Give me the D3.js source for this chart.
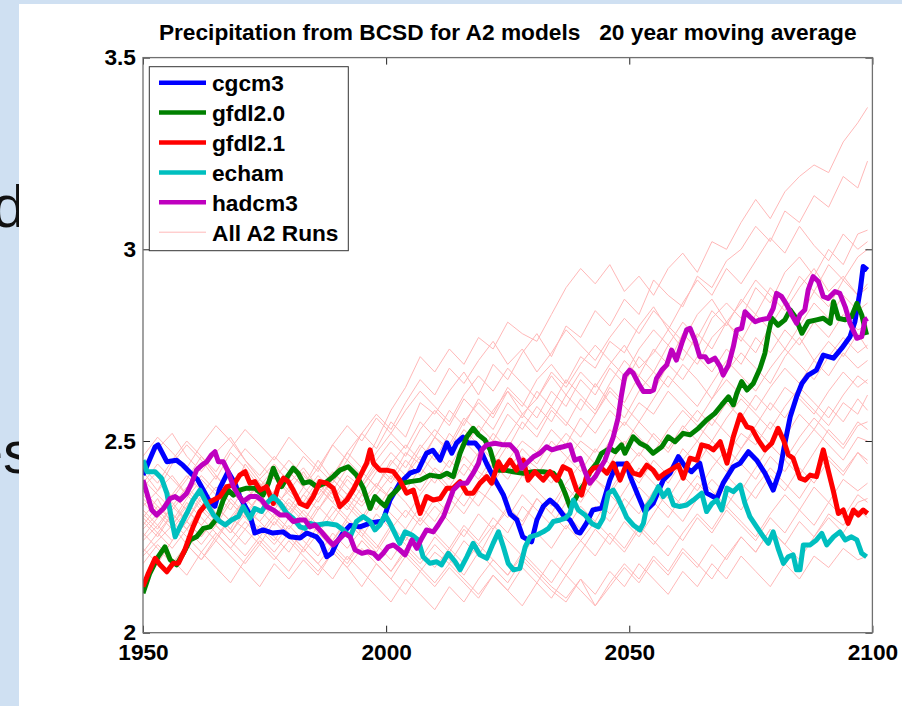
<!DOCTYPE html>
<meta charset="utf-8">

<style>
	body { margin: 0; background: #cfe0f2; }
	svg { display: block; font-family: "Liberation Sans", Arial, sans-serif; }
	.title { white-space: pre; }
	.axis text { font-size: 22.7px; font-weight: bold; fill: #000; }
</style>

<div id="chartBx"></div>

<script src="https://cdn.jsdelivr.net/npm/d3@7"></script>

<script>

	// 모델 이름 / 색상
	var modelNames  = ["cgcm3", "gfdl2.0", "gfdl2.1", "echam", "hadcm3"];
	var modelColors = ["#0000ff", "#008000", "#ff0000", "#00bfbf", "#bf00bf"];
	var runsLabel   = "All A2 Runs";

	var xTicks = [1950, 2000, 2050, 2100];
	var yTicks = [2, 2.5, 3, 3.5];

	// [year, precip]
	var cgcm3 = [
		[1950.0,2.411],[1952.5,2.485],[1953.1,2.490],[1954.9,2.446],[1956.9,2.450],[1958.2,2.437],[1960.3,2.410],[1961.2,2.400],
		[1963.8,2.340],[1964.8,2.330],[1965.8,2.377],[1967.5,2.420],[1968.9,2.390],[1969.9,2.355],[1972.0,2.307],[1973.0,2.260],
		[1974.7,2.268],[1976.7,2.260],[1978.8,2.263],[1980.2,2.250],[1982.3,2.247],[1983.7,2.260],[1985.7,2.250],[1986.7,2.234],
		[1987.8,2.198],[1988.8,2.207],[1989.8,2.234],[1991.1,2.260],[1992.6,2.280],[1994.6,2.276],[1996.7,2.286],[1998.7,2.290],
		[1999.4,2.294],[2000.8,2.346],[2002.8,2.390],[2004.9,2.416],[2006.6,2.424],[2008.3,2.468],[2009.6,2.476],[2011.1,2.450],
		[2012.5,2.495],[2013.5,2.468],[2014.5,2.495],[2015.8,2.510],[2016.8,2.495],[2018.3,2.495],[2019.3,2.480],[2020.7,2.440],
		[2022.4,2.398],[2024.1,2.360],[2025.5,2.310],[2026.9,2.294],[2028.1,2.250],[2029.9,2.237],[2031.0,2.294],[2032.3,2.329],
		[2033.7,2.346],[2035.1,2.330],[2036.4,2.307],[2037.8,2.294],[2039.2,2.263],[2039.9,2.260],[2041.2,2.286],[2042.5,2.320],
		[2044.3,2.325],[2046.0,2.398],[2047.4,2.440],[2049.5,2.440],[2050.2,2.407],[2051.9,2.355],[2053.2,2.316],[2054.9,2.337],
		[2057.0,2.398],[2058.4,2.416],[2060.1,2.459],[2061.5,2.433],[2062.8,2.420],[2064.5,2.442],[2065.9,2.364],[2068.0,2.350],
		[2069.3,2.390],[2071.4,2.433],[2072.8,2.442],[2074.5,2.472],[2076.2,2.450],[2077.9,2.416],[2079.6,2.372],[2081.0,2.424],
		[2082.0,2.494],[2083.1,2.563],[2084.4,2.615],[2085.5,2.650],[2086.8,2.672],[2088.5,2.685],[2089.9,2.724],[2092.0,2.716],
		[2093.7,2.742],[2095.4,2.772],[2096.4,2.811],[2097.5,2.894],[2098.1,2.955],[2099.0,2.946]
	];

	var gfdl20 = [
		[1950.0,2.103],[1951.4,2.155],[1953.1,2.198],[1954.5,2.224],[1955.6,2.190],[1956.9,2.177],[1958.3,2.207],[1959.7,2.242],
		[1961.0,2.250],[1962.4,2.272],[1963.8,2.276],[1965.2,2.298],[1966.5,2.346],[1967.5,2.372],[1968.6,2.359],[1969.9,2.372],
		[1971.3,2.377],[1973.0,2.377],[1974.7,2.359],[1975.8,2.390],[1976.8,2.429],[1977.5,2.407],[1978.5,2.381],[1979.9,2.411],
		[1980.9,2.429],[1981.9,2.416],[1983.0,2.390],[1984.3,2.394],[1985.7,2.381],[1987.4,2.390],[1989.1,2.407],[1990.5,2.424],
		[1992.2,2.433],[1993.9,2.411],[1995.3,2.377],[1996.7,2.324],[1997.7,2.355],[1998.7,2.342],[1999.8,2.330],[2000.8,2.355],
		[2002.2,2.372],[2003.5,2.390],[2004.9,2.394],[2007.0,2.398],[2009.0,2.411],[2011.1,2.407],[2012.5,2.416],[2013.8,2.407],
		[2015.2,2.468],[2016.6,2.511],[2017.9,2.533],[2019.0,2.516],[2020.3,2.503],[2021.4,2.477],[2022.4,2.433],[2023.1,2.424],
		[2024.4,2.424],[2026.1,2.420],[2028.2,2.416],[2030.3,2.420],[2032.3,2.420],[2034.4,2.416],[2035.8,2.394],[2036.8,2.364],
		[2037.8,2.329],[2038.8,2.346],[2039.9,2.372],[2040.9,2.390],[2041.9,2.420],[2043.3,2.442],[2044.3,2.468],[2046.0,2.481],
		[2047.1,2.472],[2048.4,2.490],[2049.1,2.468],[2050.8,2.511],[2052.2,2.494],[2053.6,2.485],[2054.9,2.468],[2056.7,2.485],
		[2058.0,2.511],[2059.4,2.498],[2061.1,2.520],[2062.5,2.516],[2064.2,2.533],[2065.9,2.555],[2067.6,2.572],[2069.0,2.594],
		[2070.4,2.615],[2071.4,2.594],[2072.1,2.624],[2073.1,2.655],[2074.2,2.633],[2075.5,2.650],[2076.9,2.690],[2077.9,2.729],
		[2078.6,2.781],[2079.3,2.820],[2080.6,2.802],[2082.0,2.816],[2083.1,2.842],[2084.1,2.824],[2085.5,2.781],[2086.8,2.811],
		[2088.5,2.816],[2089.9,2.820],[2091.3,2.807],[2092.0,2.863],[2093.0,2.820],[2094.4,2.816],[2095.7,2.824],[2096.8,2.859],
		[2097.8,2.829],[2098.8,2.777]
	];

	var gfdl21 = [
		[1950.0,2.120],[1951.1,2.155],[1952.5,2.194],[1953.5,2.177],[1954.9,2.159],[1956.2,2.181],[1957.3,2.181],[1958.6,2.216],
		[1960.3,2.276],[1961.7,2.316],[1963.1,2.337],[1964.5,2.346],[1965.8,2.355],[1967.2,2.381],[1968.6,2.385],[1969.9,2.411],
		[1971.0,2.420],[1972.0,2.390],[1973.0,2.394],[1974.1,2.372],[1975.4,2.381],[1976.8,2.337],[1977.8,2.381],[1978.9,2.403],
		[1979.9,2.394],[1980.9,2.372],[1982.3,2.337],[1983.7,2.329],[1985.0,2.355],[1986.4,2.394],[1987.8,2.390],[1989.1,2.377],
		[1990.5,2.329],[1991.9,2.346],[1993.2,2.372],[1994.6,2.407],[1996.0,2.442],[1996.7,2.477],[1997.4,2.442],[1998.7,2.424],
		[2000.1,2.424],[2001.5,2.420],[2002.8,2.398],[2004.2,2.364],[2005.6,2.372],[2007.0,2.311],[2008.3,2.355],[2009.7,2.346],
		[2011.1,2.350],[2012.5,2.377],[2013.8,2.377],[2015.2,2.394],[2016.6,2.364],[2017.9,2.364],[2019.3,2.390],[2020.7,2.407],
		[2021.7,2.390],[2023.1,2.446],[2024.1,2.424],[2025.5,2.450],[2026.8,2.424],[2028.2,2.450],[2029.2,2.398],[2030.6,2.420],
		[2032.3,2.398],[2033.7,2.420],[2035.1,2.398],[2036.4,2.433],[2037.8,2.424],[2039.2,2.372],[2040.2,2.359],[2041.2,2.407],
		[2042.6,2.429],[2044.0,2.433],[2045.4,2.416],[2046.7,2.442],[2048.1,2.398],[2049.5,2.442],[2050.8,2.416],[2052.2,2.411],
		[2053.6,2.437],[2054.9,2.424],[2056.0,2.403],[2057.3,2.416],[2059.1,2.429],[2060.1,2.437],[2061.1,2.403],[2062.5,2.455],
		[2063.9,2.450],[2064.9,2.490],[2066.3,2.485],[2067.3,2.477],[2068.7,2.498],[2070.1,2.442],[2071.4,2.511],[2072.8,2.568],
		[2074.2,2.537],[2075.2,2.533],[2076.5,2.503],[2077.9,2.477],[2079.3,2.494],[2080.6,2.533],[2081.7,2.503],[2082.7,2.464],
		[2083.7,2.455],[2085.1,2.403],[2086.2,2.398],[2087.2,2.411],[2088.5,2.407],[2089.9,2.477],[2090.9,2.424],[2092.0,2.368],
		[2093.0,2.311],[2094.0,2.320],[2095.0,2.285],[2096.1,2.320],[2097.1,2.307],[2098.1,2.320],[2099.0,2.311]
	];

	var echam = [
		[1950.0,2.450],[1950.8,2.420],[1952.5,2.420],[1953.8,2.403],[1954.9,2.364],[1955.9,2.294],[1956.6,2.250],[1957.6,2.276],
		[1959.0,2.311],[1960.3,2.346],[1961.7,2.372],[1963.1,2.337],[1964.5,2.307],[1965.8,2.290],[1966.9,2.281],[1968.2,2.294],
		[1969.6,2.303],[1970.6,2.329],[1972.0,2.298],[1973.0,2.324],[1974.4,2.316],[1975.4,2.337],[1976.8,2.355],[1978.2,2.337],
		[1979.6,2.311],[1980.9,2.298],[1982.3,2.276],[1983.3,2.272],[1984.3,2.285],[1985.7,2.281],[1987.8,2.285],[1989.8,2.281],
		[1991.2,2.268],[1992.6,2.250],[1993.9,2.290],[1995.3,2.303],[1996.7,2.290],[1997.7,2.268],[1998.7,2.281],[1999.8,2.307],
		[2000.8,2.285],[2001.8,2.259],[2002.8,2.233],[2003.9,2.263],[2005.3,2.255],[2006.6,2.242],[2007.6,2.198],[2009.0,2.181],
		[2010.4,2.185],[2011.4,2.177],[2012.8,2.207],[2014.2,2.185],[2015.2,2.164],[2016.6,2.198],[2017.9,2.233],[2019.3,2.203],
		[2020.7,2.194],[2022.0,2.233],[2023.1,2.263],[2024.1,2.224],[2025.1,2.181],[2026.2,2.164],[2027.5,2.168],[2028.6,2.224],
		[2029.6,2.250],[2031.0,2.255],[2032.3,2.263],[2033.4,2.272],[2034.4,2.290],[2035.8,2.294],[2036.8,2.298],[2037.8,2.311],
		[2038.5,2.346],[2039.5,2.320],[2040.9,2.307],[2042.3,2.285],[2043.6,2.276],[2044.6,2.298],[2045.7,2.364],[2046.7,2.372],
		[2047.7,2.350],[2048.8,2.320],[2049.5,2.300],[2050.8,2.281],[2052.2,2.268],[2052.9,2.285],[2053.6,2.329],[2054.6,2.346],
		[2056.0,2.381],[2057.0,2.355],[2058.0,2.372],[2059.1,2.333],[2060.4,2.329],[2061.8,2.333],[2063.2,2.346],[2064.9,2.364],
		[2065.9,2.316],[2067.0,2.337],[2068.0,2.346],[2069.0,2.320],[2070.1,2.377],[2071.4,2.368],[2072.8,2.385],[2073.8,2.337],
		[2074.8,2.303],[2076.2,2.276],[2077.6,2.250],[2078.6,2.233],[2079.6,2.263],[2080.6,2.220],[2081.7,2.181],[2082.7,2.198],
		[2083.7,2.203],[2084.4,2.164],[2085.1,2.164],[2085.8,2.229],[2087.2,2.229],[2088.5,2.242],[2089.6,2.259],[2090.6,2.229],
		[2092.0,2.250],[2093.3,2.263],[2094.4,2.242],[2095.7,2.250],[2096.8,2.242],[2097.8,2.207],[2098.8,2.198]
	];

	var hadcm3 = [
		[1950.0,2.398],[1950.8,2.364],[1951.8,2.320],[1952.8,2.307],[1954.2,2.324],[1955.6,2.350],[1956.6,2.355],[1957.6,2.346],
		[1959.0,2.364],[1960.0,2.390],[1961.0,2.424],[1962.1,2.437],[1963.1,2.446],[1964.1,2.464],[1964.8,2.472],[1965.5,2.446],
		[1966.5,2.446],[1967.5,2.420],[1968.6,2.381],[1969.6,2.359],[1970.6,2.342],[1972.0,2.355],[1973.4,2.355],[1974.4,2.346],
		[1975.4,2.329],[1976.8,2.320],[1978.2,2.307],[1979.6,2.307],[1980.9,2.290],[1982.3,2.294],[1983.3,2.294],[1984.3,2.276],
		[1985.4,2.281],[1986.7,2.263],[1988.1,2.242],[1989.1,2.229],[1990.2,2.242],[1991.5,2.259],[1992.6,2.250],[1993.6,2.216],
		[1995.0,2.207],[1996.3,2.211],[1997.4,2.207],[1998.4,2.194],[1999.4,2.207],[2000.4,2.224],[2001.5,2.229],[2002.8,2.216],
		[2003.9,2.203],[2005.3,2.242],[2006.3,2.220],[2007.3,2.246],[2008.3,2.268],[2009.7,2.263],[2010.7,2.281],[2011.8,2.303],
		[2012.8,2.337],[2013.8,2.372],[2015.2,2.390],[2016.6,2.390],[2017.9,2.416],[2019.0,2.442],[2019.7,2.477],[2020.7,2.490],
		[2022.4,2.494],[2024.1,2.490],[2025.5,2.490],[2026.8,2.472],[2027.9,2.429],[2028.9,2.442],[2030.3,2.459],[2031.6,2.468],
		[2033.0,2.485],[2034.1,2.477],[2035.1,2.481],[2036.4,2.485],[2037.8,2.490],[2038.8,2.450],[2039.9,2.455],[2040.9,2.420],
		[2041.9,2.390],[2043.0,2.407],[2044.0,2.429],[2045.0,2.450],[2046.7,2.510],[2047.7,2.560],[2048.4,2.620],[2049.1,2.670],
		[2050.1,2.685],[2050.8,2.677],[2051.9,2.650],[2052.9,2.629],[2054.3,2.629],[2055.0,2.633],[2055.6,2.663],[2056.7,2.685],
		[2057.7,2.698],[2058.7,2.737],[2059.7,2.711],[2060.8,2.755],[2061.8,2.790],[2062.5,2.794],[2063.5,2.763],[2064.5,2.720],
		[2065.6,2.720],[2066.3,2.707],[2067.6,2.716],[2068.7,2.694],[2069.3,2.672],[2070.4,2.698],[2071.4,2.746],[2072.1,2.790],
		[2073.1,2.794],[2073.8,2.837],[2074.8,2.824],[2075.9,2.811],[2076.9,2.816],[2078.6,2.820],[2079.6,2.846],[2080.3,2.885],
		[2081.3,2.877],[2082.4,2.855],[2083.4,2.829],[2084.4,2.807],[2085.1,2.829],[2086.1,2.842],[2086.8,2.894],[2087.8,2.929],
		[2088.9,2.916],[2089.9,2.877],[2090.9,2.872],[2092.3,2.890],[2093.3,2.885],[2094.4,2.850],[2095.4,2.807],[2096.8,2.768],
		[2097.8,2.772],[2098.5,2.816],[2099.0,2.820]
	];

	var modelSeries = [cgcm3, gfdl20, gfdl21, echam, hadcm3];

	// 전체 A2 run (연한 선) : 공통 연도
	var runYears = [1950,1953,1956,1959,1962,1965,1968,1971,1974,1977,1980,1983,1986,1989,1992,1995,1998,
		2001,2004,2007,2010,2013,2016,2019,2022,2025,2028,2031,2034,2037,2040,2043,2046,2049,
		2052,2055,2058,2061,2064,2067,2070,2073,2076,2079,2082,2085,2088,2091,2094,2097,2099];

	var a2Runs = [
		[2.38,2.42,2.35,2.40,2.46,2.41,2.36,2.44,2.39,2.33, 2.37,2.42,2.36,2.41,2.47,2.43,2.50,2.58,2.64,2.72,
		 2.68,2.74,2.70,2.77,2.74,2.81,2.78,2.76,2.83,2.90, 2.95,2.91,2.96,2.89,2.93,2.88,2.95,2.99,2.94,3.02,
		 3.00,3.07,3.13,3.08,3.15,3.19,3.22,3.20,3.28,3.33,3.37],
		[2.30,2.35,2.28,2.33,2.38,2.31,2.27,2.34,2.40,2.36, 2.32,2.38,2.45,2.40,2.47,2.52,2.48,2.55,2.51,2.60,
		 2.57,2.63,2.68,2.62,2.70,2.66,2.73,2.78,2.72,2.80, 2.77,2.84,2.80,2.87,2.83,2.92,2.88,2.85,2.93,2.90,
		 2.97,3.00,3.06,3.02,3.10,3.07,3.14,3.11,3.19,3.16,3.23],
		[2.42,2.37,2.44,2.49,2.45,2.40,2.47,2.43,2.38,2.41, 2.36,2.33,2.39,2.35,2.41,2.38,2.44,2.40,2.47,2.44,
		 2.51,2.48,2.55,2.60,2.56,2.63,2.59,2.66,2.70,2.65, 2.72,2.69,2.76,2.73,2.80,2.85,2.79,2.86,2.92,2.88,
		 2.95,2.91,2.97,3.03,2.99,3.06,3.01,2.97,3.04,3.00,3.02],
		[2.25,2.30,2.34,2.29,2.36,2.41,2.37,2.33,2.38,2.43, 2.40,2.46,2.42,2.49,2.45,2.52,2.57,2.53,2.60,2.66,
		 2.62,2.69,2.65,2.71,2.76,2.70,2.74,2.68,2.73,2.79, 2.75,2.71,2.77,2.82,2.78,2.84,2.80,2.76,2.83,2.87,
		 2.81,2.86,2.92,2.88,2.84,2.90,2.95,2.89,2.93,2.88,2.91],
		[2.35,2.31,2.27,2.32,2.28,2.24,2.30,2.35,2.31,2.37, 2.33,2.29,2.35,2.40,2.36,2.42,2.38,2.45,2.41,2.48,
		 2.53,2.49,2.56,2.52,2.58,2.63,2.57,2.61,2.67,2.62, 2.68,2.64,2.70,2.75,2.69,2.73,2.79,2.74,2.70,2.77,
		 2.81,2.76,2.83,2.79,2.74,2.80,2.86,2.82,2.88,2.84,2.86],
		[2.44,2.48,2.52,2.46,2.42,2.47,2.51,2.45,2.40,2.44, 2.39,2.43,2.38,2.34,2.40,2.36,2.42,2.47,2.43,2.49,
		 2.45,2.52,2.48,2.54,2.50,2.57,2.53,2.59,2.55,2.62, 2.58,2.65,2.60,2.56,2.63,2.68,2.64,2.70,2.66,2.61,
		 2.68,2.73,2.69,2.65,2.72,2.77,2.71,2.76,2.72,2.78,2.74],
		[2.20,2.24,2.28,2.23,2.19,2.25,2.30,2.27,2.32,2.28, 2.34,2.30,2.26,2.31,2.36,2.33,2.38,2.35,2.41,2.37,
		 2.43,2.40,2.46,2.42,2.39,2.45,2.50,2.47,2.53,2.49, 2.56,2.52,2.58,2.54,2.60,2.57,2.63,2.59,2.55,2.61,
		 2.66,2.62,2.58,2.64,2.69,2.65,2.71,2.67,2.73,2.69,2.71],
		[2.31,2.27,2.33,2.38,2.34,2.30,2.26,2.32,2.29,2.25, 2.21,2.27,2.33,2.29,2.35,2.31,2.28,2.34,2.30,2.36,
		 2.41,2.37,2.33,2.39,2.44,2.40,2.46,2.43,2.39,2.45, 2.50,2.47,2.53,2.49,2.55,2.51,2.47,2.53,2.58,2.54,
		 2.60,2.56,2.62,2.58,2.64,2.61,2.57,2.63,2.68,2.64,2.66],
		[2.28,2.33,2.29,2.25,2.21,2.26,2.22,2.18,2.23,2.19, 2.24,2.20,2.16,2.21,2.17,2.12,2.18,2.14,2.10,2.16,
		 2.21,2.18,2.24,2.20,2.27,2.32,2.28,2.35,2.31,2.38, 2.34,2.40,2.37,2.43,2.39,2.45,2.41,2.48,2.44,2.50,
		 2.46,2.52,2.49,2.55,2.51,2.57,2.53,2.59,2.55,2.61,2.58],
		[2.40,2.36,2.32,2.37,2.33,2.29,2.35,2.31,2.36,2.41, 2.37,2.33,2.38,2.34,2.30,2.36,2.32,2.38,2.34,2.29,
		 2.35,2.31,2.37,2.33,2.39,2.35,2.41,2.37,2.33,2.39, 2.44,2.40,2.36,2.42,2.47,2.43,2.39,2.45,2.50,2.46,
		 2.42,2.48,2.53,2.49,2.45,2.51,2.56,2.52,2.48,2.54,2.55],
		[2.22,2.18,2.24,2.29,2.25,2.31,2.27,2.23,2.28,2.24, 2.30,2.26,2.32,2.37,2.33,2.29,2.35,2.31,2.27,2.33,
		 2.29,2.35,2.31,2.37,2.34,2.30,2.36,2.32,2.28,2.34, 2.39,2.35,2.31,2.37,2.43,2.39,2.35,2.41,2.37,2.43,
		 2.48,2.44,2.40,2.46,2.42,2.48,2.53,2.49,2.45,2.51,2.50],
		[2.33,2.37,2.41,2.36,2.32,2.28,2.34,2.30,2.26,2.31, 2.27,2.32,2.28,2.24,2.30,2.26,2.22,2.28,2.24,2.30,
		 2.26,2.22,2.28,2.24,2.30,2.26,2.33,2.29,2.35,2.31, 2.27,2.33,2.29,2.35,2.31,2.37,2.33,2.29,2.35,2.40,
		 2.36,2.32,2.38,2.43,2.39,2.35,2.41,2.46,2.42,2.47,2.45],
		[2.18,2.23,2.19,2.15,2.21,2.17,2.13,2.19,2.24,2.20, 2.16,2.22,2.18,2.14,2.20,2.16,2.12,2.08,2.14,2.10,
		 2.06,2.12,2.08,2.14,2.19,2.15,2.21,2.17,2.13,2.19, 2.24,2.20,2.26,2.22,2.28,2.24,2.20,2.26,2.31,2.27,
		 2.33,2.29,2.25,2.31,2.36,2.32,2.38,2.34,2.40,2.37,2.39],
		[2.26,2.22,2.18,2.23,2.19,2.24,2.20,2.16,2.12,2.18, 2.14,2.19,2.15,2.21,2.17,2.22,2.18,2.14,2.20,2.16,
		 2.12,2.17,2.13,2.09,2.15,2.11,2.07,2.13,2.09,2.15, 2.11,2.07,2.13,2.18,2.14,2.20,2.16,2.22,2.18,2.14,
		 2.20,2.25,2.21,2.27,2.23,2.19,2.25,2.30,2.26,2.32,2.30],
		[2.36,2.32,2.28,2.34,2.30,2.26,2.22,2.27,2.23,2.29, 2.25,2.21,2.26,2.22,2.18,2.24,2.20,2.16,2.22,2.18,
		 2.23,2.19,2.15,2.21,2.17,2.13,2.19,2.15,2.11,2.08, 2.14,2.10,2.16,2.12,2.18,2.14,2.10,2.16,2.12,2.18,
		 2.14,2.20,2.16,2.12,2.18,2.14,2.20,2.17,2.22,2.19,2.20],
		[2.46,2.51,2.47,2.43,2.49,2.54,2.50,2.45,2.41,2.46, 2.42,2.38,2.43,2.39,2.45,2.41,2.47,2.52,2.48,2.55,
		 2.51,2.58,2.54,2.61,2.57,2.64,2.60,2.56,2.63,2.59, 2.66,2.62,2.69,2.65,2.72,2.68,2.75,2.71,2.78,2.74,
		 2.81,2.77,2.73,2.80,2.86,2.82,2.89,2.85,2.92,2.88,2.90],
		[2.29,2.25,2.31,2.27,2.33,2.38,2.34,2.30,2.36,2.32, 2.38,2.34,2.40,2.36,2.32,2.38,2.43,2.39,2.45,2.41,
		 2.47,2.43,2.50,2.46,2.52,2.48,2.55,2.51,2.58,2.54, 2.61,2.57,2.64,2.60,2.67,2.74,2.70,2.78,2.74,2.82,
		 2.86,2.82,2.90,2.86,2.94,2.98,2.93,3.00,2.96,3.04,3.05],
		[2.39,2.44,2.40,2.36,2.41,2.37,2.43,2.48,2.44,2.40, 2.45,2.41,2.37,2.42,2.38,2.34,2.39,2.35,2.41,2.46,
		 2.42,2.38,2.44,2.40,2.46,2.42,2.48,2.44,2.50,2.46, 2.42,2.48,2.44,2.50,2.46,2.52,2.48,2.54,2.50,2.56,
		 2.52,2.48,2.54,2.60,2.56,2.62,2.58,2.54,2.60,2.57,2.62],
		[2.24,2.28,2.33,2.29,2.25,2.30,2.26,2.31,2.27,2.23, 2.28,2.24,2.20,2.26,2.22,2.27,2.23,2.19,2.25,2.21,
		 2.17,2.22,2.18,2.23,2.19,2.15,2.20,2.16,2.12,2.09, 2.14,2.07,2.12,2.17,2.13,2.19,2.15,2.21,2.17,2.23,
		 2.19,2.25,2.21,2.27,2.23,2.29,2.25,2.31,2.28,2.34,2.35],
		[2.34,2.30,2.36,2.41,2.37,2.33,2.29,2.35,2.31,2.37, 2.42,2.38,2.34,2.40,2.36,2.42,2.38,2.44,2.49,2.45,
		 2.51,2.47,2.53,2.49,2.45,2.51,2.57,2.53,2.59,2.55, 2.51,2.57,2.63,2.59,2.55,2.61,2.67,2.63,2.59,2.65,
		 2.71,2.67,2.63,2.69,2.74,2.70,2.66,2.72,2.77,2.73,2.75],
		[2.27,2.31,2.36,2.32,2.28,2.33,2.29,2.34,2.39,2.35, 2.31,2.36,2.41,2.37,2.43,2.39,2.45,2.50,2.46,2.53,
		 2.58,2.54,2.61,2.57,2.53,2.60,2.56,2.63,2.59,2.66, 2.62,2.58,2.65,2.71,2.67,2.63,2.70,2.66,2.72,2.68,
		 2.74,2.70,2.77,2.73,2.79,2.75,2.81,2.77,2.83,2.79,2.80],
		[2.37,2.33,2.29,2.35,2.40,2.36,2.32,2.38,2.34,2.30, 2.35,2.31,2.27,2.33,2.29,2.25,2.31,2.27,2.32,2.28,
		 2.33,2.29,2.25,2.31,2.27,2.33,2.29,2.35,2.31,2.27, 2.33,2.29,2.36,2.32,2.38,2.34,2.30,2.36,2.41,2.37,
		 2.33,2.39,2.35,2.41,2.37,2.43,2.39,2.45,2.41,2.47,2.44],
		[2.43,2.39,2.45,2.50,2.46,2.42,2.48,2.53,2.49,2.45, 2.51,2.47,2.43,2.49,2.54,2.50,2.56,2.52,2.58,2.63,
		 2.59,2.55,2.62,2.67,2.63,2.69,2.65,2.61,2.68,2.64, 2.70,2.75,2.71,2.67,2.74,2.79,2.75,2.81,2.77,2.84,
		 2.80,2.87,2.83,2.90,2.86,2.93,2.89,2.96,2.92,2.98,3.00],
		[2.21,2.26,2.22,2.27,2.32,2.28,2.24,2.29,2.25,2.30, 2.26,2.22,2.28,2.24,2.29,2.25,2.21,2.27,2.23,2.19,
		 2.25,2.21,2.27,2.23,2.28,2.24,2.20,2.26,2.22,2.28, 2.24,2.29,2.25,2.21,2.27,2.23,2.28,2.24,2.30,2.26,
		 2.32,2.28,2.24,2.30,2.26,2.32,2.28,2.34,2.30,2.36,2.34],
		[2.32,2.28,2.24,2.29,2.35,2.31,2.37,2.33,2.29,2.34, 2.30,2.36,2.32,2.38,2.34,2.30,2.36,2.41,2.37,2.43,
		 2.39,2.45,2.41,2.47,2.43,2.49,2.45,2.41,2.47,2.52, 2.48,2.44,2.50,2.55,2.51,2.47,2.53,2.58,2.54,2.50,
		 2.56,2.61,2.57,2.53,2.59,2.64,2.60,2.56,2.62,2.67,2.65],
		[2.30,2.26,2.31,2.27,2.23,2.28,2.24,2.20,2.25,2.21, 2.26,2.22,2.18,2.23,2.19,2.24,2.20,2.16,2.21,2.17,
		 2.13,2.18,2.14,2.10,2.15,2.11,2.17,2.13,2.19,2.15, 2.21,2.27,2.23,2.29,2.25,2.31,2.37,2.33,2.39,2.35,
		 2.41,2.37,2.43,2.49,2.45,2.41,2.47,2.53,2.49,2.55,2.53]
	];


	makeChart( 'chartBx', 902, 706 );


	function makeChart( div_id, pWidth, pHeight ){

		// 플롯 영역 (px)
		var plot = {left: 143, top: 57.6, right: 872.4, bottom: 632.7};
		var fontSize = 22.7;

		var svg = d3.select("#" + div_id).append("svg")
					.attr("width", pWidth)
					.attr("height", pHeight);

		// 슬라이드 배경 (왼쪽 잘린 글자)
		svg.append("rect").attr("width", pWidth).attr("height", pHeight).attr("fill", "#cfe0f2");
		svg.append("text").attr("x", -8).attr("y", 227)
			.attr("font-size", 60).attr("fill", "#111").text("d");
		svg.append("text").attr("x", 33).attr("y", 473).attr("text-anchor", "end")
			.attr("font-size", 60).attr("fill", "#111").text("es");
		svg.append("rect").attr("x", 19).attr("y", 4)
			.attr("width", pWidth - 19).attr("height", pHeight - 4).attr("fill", "#fff");

		var x = d3.scaleLinear().domain([1950, 2100]).range([plot.left, plot.right]);
		var y = d3.scaleLinear().domain([2, 3.5]).range([plot.bottom, plot.top]);

		// 제목
		svg.append("text")
			.attr("class", "title")
			.attr("x", (plot.left + plot.right) / 2)
			.attr("y", 39.5)
			.attr("text-anchor", "middle")
			.attr("font-size", fontSize)
			.attr("font-weight", "bold")
			.text("Precipitation from BCSD for A2 models   20 year moving average");

		svg.append("clipPath").attr("id", "plotClip")
			.append("rect")
				.attr("x", plot.left).attr("y", plot.top)
				.attr("width", plot.right - plot.left).attr("height", plot.bottom - plot.top);

		var line = d3.line()
					.x(function(d) { return x(d[0]); })
					.y(function(d) { return y(d[1]); });

		var lines = svg.append("g").attr("clip-path", "url(#plotClip)");

		// 연한 선 (All A2 Runs)
		lines.append("g").attr("class", "runs")
			.selectAll("path")
			.data(a2Runs)
			.enter().append("path")
				.attr("d", function(vals) { return line(vals.map(function(v, i) { return [runYears[i], v]; })); })
				.attr("fill", "none")
				.attr("stroke", "#ffb8b8")
				.attr("stroke-width", 1);

		// 모델 선
		lines.append("g").attr("class", "models")
			.selectAll("path")
			.data(modelSeries)
			.enter().append("path")
				.attr("d", line)
				.attr("fill", "none")
				.attr("stroke", function(d, i) { return modelColors[i]; })
				.attr("stroke-width", 5)
				.attr("stroke-linejoin", "round");

		// 축
		var axisB = svg.append("g").attr("class", "axis")
			.attr("transform", "translate(0," + plot.bottom + ")")
			.call(d3.axisBottom(x).tickValues(xTicks).tickFormat(d3.format("d"))
				.tickSizeInner(-7).tickSizeOuter(0).tickPadding(11));
		var axisL = svg.append("g").attr("class", "axis")
			.attr("transform", "translate(" + plot.left + ",0)")
			.call(d3.axisLeft(y).tickValues(yTicks).tickFormat(d3.format("")).tickSizeInner(-7).tickSizeOuter(0).tickPadding(7));
		var axisT = svg.append("g").attr("class", "axis")
			.attr("transform", "translate(0," + plot.top + ")")
			.call(d3.axisTop(x).tickValues(xTicks).tickFormat("").tickSizeInner(-7).tickSizeOuter(0));
		var axisR = svg.append("g").attr("class", "axis")
			.attr("transform", "translate(" + plot.right + ",0)")
			.call(d3.axisRight(y).tickValues(yTicks).tickFormat("").tickSizeInner(-7).tickSizeOuter(0));

		[axisB, axisL, axisT, axisR].forEach(function(a) {
			a.select(".domain").remove();
			a.selectAll(".tick line").attr("stroke", "#222");
		});

		// 테두리
		svg.append("rect")
			.attr("x", plot.left).attr("y", plot.top)
			.attr("width", plot.right - plot.left).attr("height", plot.bottom - plot.top)
			.attr("fill", "none")
			.attr("stroke", "#707070")
			.attr("stroke-width", 1.3);

		// 범례
		var legend = svg.append("g").attr("class", "legend");
		legend.append("rect")
			.attr("x", 149.3).attr("y", 66.7)
			.attr("width", 199).attr("height", 184)
			.attr("fill", "#fff")
			.attr("stroke", "#333")
			.attr("stroke-width", 1);

		var legendItems = modelNames.map(function(n, i) { return {name: n, color: modelColors[i], width: 4.5}; })
							.concat([{name: runsLabel, color: "#ffb8b8", width: 1}]);

		legendItems.forEach(function(d, i) {
			var ly = 82.7 + i * 29.9;
			legend.append("line")
				.attr("x1", 159).attr("x2", 206)
				.attr("y1", ly).attr("y2", ly)
				.attr("stroke", d.color)
				.attr("stroke-width", d.width);
			legend.append("text")
				.attr("x", 212).attr("y", ly + 8.5)
				.attr("font-size", fontSize)
				.attr("font-weight", "bold")
				.text(d.name);
		});

	}

</script>
